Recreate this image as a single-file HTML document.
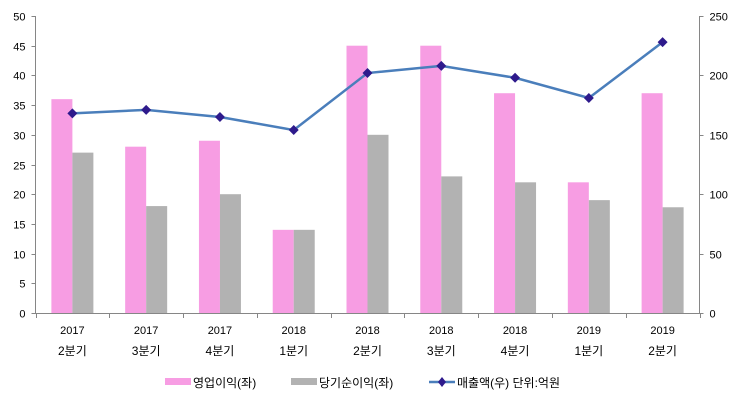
<!DOCTYPE html>
<html><head><meta charset="utf-8"><style>
body{margin:0;background:#fff;}
svg text{font-family:"Liberation Sans","Noto Sans CJK KR",sans-serif;fill:#000;}
</style></head><body>
<svg id="chart" width="743" height="403" xmlns="http://www.w3.org/2000/svg"></svg>
<script>
const years = ["2017","2017","2017","2018","2018","2018","2018","2019","2019"];
const quarters = ["2분기","3분기","4분기","1분기","2분기","3분기","4분기","1분기","2분기"];
const operatingProfit = [36, 28, 29, 14, 45, 45, 37, 22, 37];
const netProfit = [27, 18, 20, 14, 30, 23, 22, 19, 17.8];
const revenue = [168, 171, 165, 154, 202, 208, 198, 181, 228];
const leftTicks = [0,5,10,15,20,25,30,35,40,45,50];
const rightTicks = [0,50,100,150,200,250];

const NS="http://www.w3.org/2000/svg";
const svg=document.getElementById('chart');
const X0=35.5,X1=699.5,Y0=313,Y1=16;
const n=years.length, cw=(X1-X0)/n;
const yL=v=>Y0-(v/50)*(Y0-Y1);
const yR=v=>Y0-(v/250)*(Y0-Y1);
const xc=i=>X0+cw*(i+0.5);
function mk(t,a,p){const e=document.createElementNS(NS,t);for(const k in a)e.setAttribute(k,a[k]);(p||svg).appendChild(e);return e;}

// axes
let ax=mk('line',{x1:X0,y1:Y1,x2:X0,y2:Y0,stroke:'#868686'});


ax=mk('line',{x1:X1,y1:Y1,x2:X1,y2:Y0,stroke:'#868686'});


ax=mk('line',{x1:X0,y1:Y0+0.5,x2:X1,y2:Y0+0.5,stroke:'#868686'});



leftTicks.forEach(v=>{
  const y=Math.round(yL(v))+0.5;
  mk('line',{x1:X0-4,y1:y,x2:X0,y2:y,stroke:'#868686'});
  const t=mk('text',{x:X0-10,y:y+4,'text-anchor':'end','font-size':11});
  t.textContent=v;
  
  
});
rightTicks.forEach(v=>{
  const y=Math.round(yR(v))+0.5;
  mk('line',{x1:X1,y1:y,x2:X1+4,y2:y,stroke:'#868686'});
  const t=mk('text',{x:X1+10,y:y+4,'font-size':11});
  t.textContent=v;
  
  
});
for(let i=0;i<=n;i++){
  const x=Math.round(X0+cw*i)+0.5;
  mk('line',{x1:x,y1:Y0,x2:x,y2:Y0+5,stroke:'#868686'});
}

// bars
const bw=21;
operatingProfit.forEach((v,i)=>{
  const r=mk('rect',{x:xc(i)-bw,y:yL(v),width:bw,height:Y0-yL(v),fill:'#F79DE3'});
  
  
});
netProfit.forEach((v,i)=>{
  const r=mk('rect',{x:xc(i),y:yL(v),width:bw,height:Y0-yL(v),fill:'#B2B2B2'});
  
  
});

// line
const pts=revenue.map((v,i)=>xc(i)+','+yR(v)).join(' ');
const pl=mk('polyline',{points:pts,fill:'none',stroke:'#4A7EBB','stroke-width':2.5});


revenue.forEach((v,i)=>{
  const x=xc(i),y=yR(v);
  const m=mk('polygon',{points:`${x},${y-5} ${x+5},${y} ${x},${y+5} ${x-5},${y}`,fill:'#2E1A8C'});
  
  
});

// x labels
years.forEach((y,i)=>{
  const t=mk('text',{x:xc(i),y:334,'text-anchor':'middle','font-size':11});
  t.textContent=y;
  
  
  const q=mk('text',{x:xc(i),y:355,'text-anchor':'middle','font-size':12});
  q.textContent=quarters[i];
  
  
});

// legend
let g=mk('g',{});


mk('rect',{x:165,y:378,width:26,height:7,fill:'#F79DE3'},g);
let t=mk('text',{x:193,y:387,'font-size':12},g);t.textContent='영업이익(좌)';
g=mk('g',{});


mk('rect',{x:291,y:378,width:26,height:7,fill:'#B2B2B2'},g);
t=mk('text',{x:319,y:387,'font-size':12},g);t.textContent='당기순이익(좌)';
g=mk('g',{});


mk('line',{x1:429,y1:382,x2:455,y2:382,stroke:'#4A7EBB','stroke-width':2.5},g);
mk('polygon',{points:'442,377 446,382 442,387 438,382',fill:'#2E1A8C'},g);
t=mk('text',{x:457,y:387,'font-size':12},g);t.textContent='매출액(우)  단위:억원';
</script>
</body></html>
